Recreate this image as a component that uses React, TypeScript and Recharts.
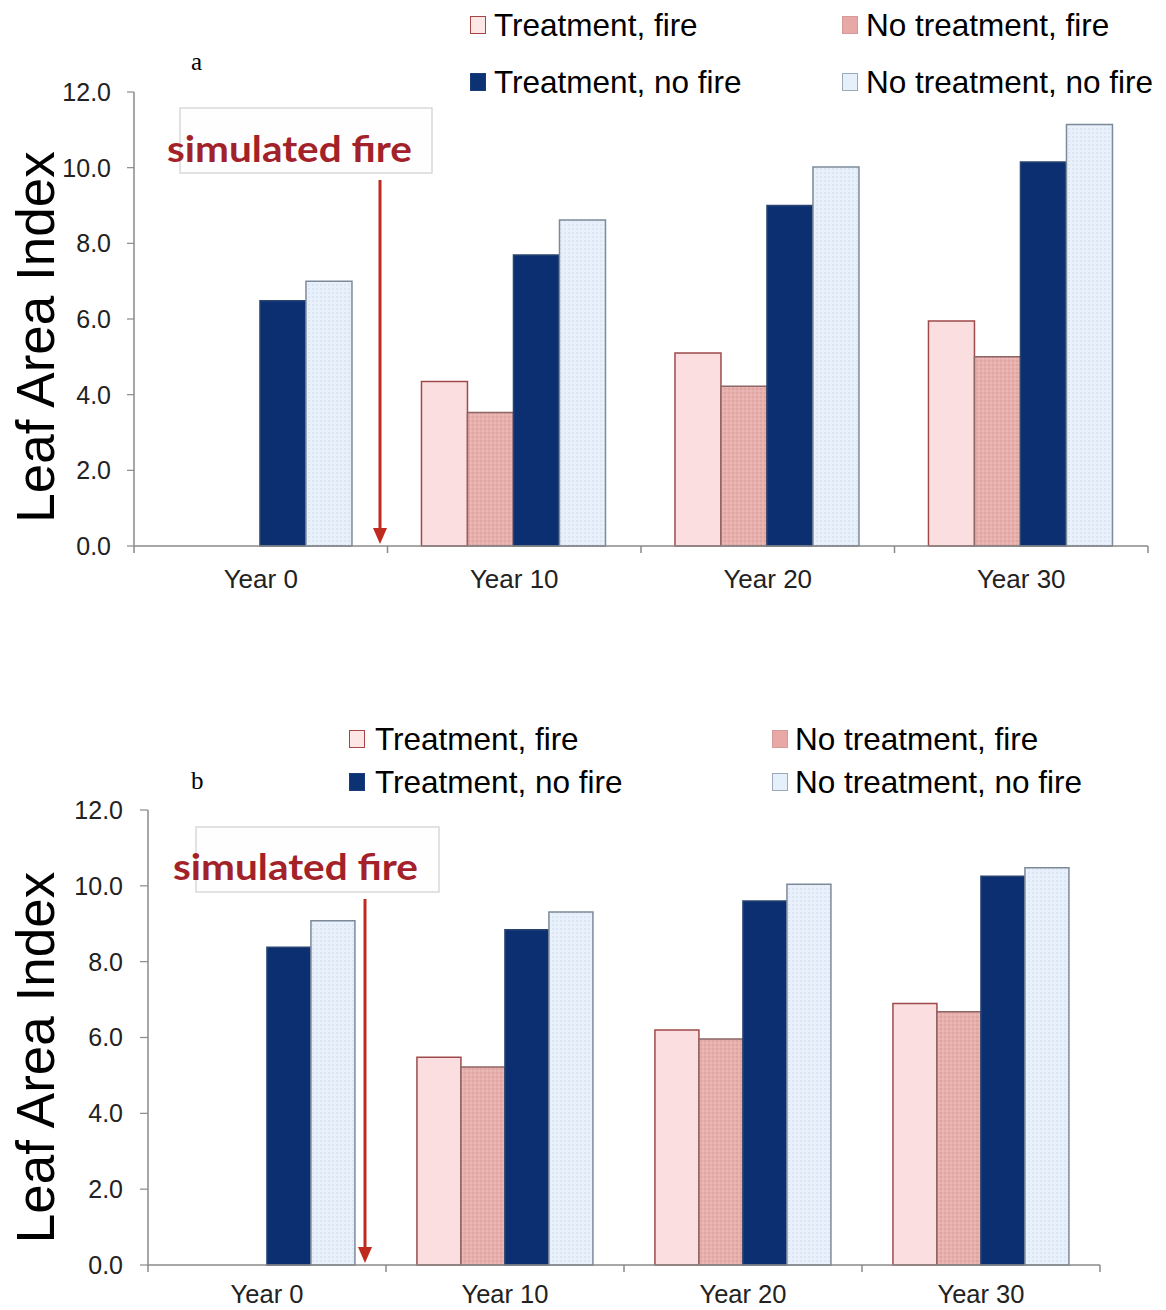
import React from 'react';
import { BarChart, Bar, XAxis, YAxis } from 'recharts';

// ---------- data ----------
const categories = ['Year 0', 'Year 10', 'Year 20', 'Year 30'];
const seriesNames = ['Treatment, fire', 'No treatment, fire', 'Treatment, no fire', 'No treatment, no fire'];
const yTicks = [0, 2, 4, 6, 8, 10, 12];

const aTreatFire = [null, 4.35, 5.1, 5.95];
const aNoTreatFire = [null, 3.53, 4.22, 5.0];
const aTreatNoFire = [6.48, 7.69, 9.0, 10.15];
const aNoTreatNoFire = [7.0, 8.62, 10.02, 11.14];

const bTreatFire = [null, 5.48, 6.2, 6.9];
const bNoTreatFire = [null, 5.22, 5.96, 6.68];
const bTreatNoFire = [8.38, 8.84, 9.6, 10.25];
const bNoTreatNoFire = [9.08, 9.31, 10.04, 10.48];

const annotationText = 'simulated fire';
const yAxisTitle = 'Leaf Area Index';

// ---------- styles ----------
const FONT = '"Liberation Sans", Arial, Helvetica, sans-serif';
const AXIS = '#8a8a8a';

const seriesKeys = ['tf', 'nf', 'tn', 'nn'];
const seriesStyle: Record<string, { fill: string; stroke: string; swFill: string; swStroke: string }> = {
  tf: { fill: '#fbdfe0', stroke: '#9e4a4a', swFill: '#fde6e6', swStroke: '#a84444' },
  nf: { fill: 'dotRose', stroke: '#8c6565', swFill: '#e7a8a6', swStroke: '#d49a98' },
  tn: { fill: '#0b2f70', stroke: '#2a4472', swFill: '#0d3274', swStroke: '#1a3c78' },
  nn: { fill: 'dotBlue', stroke: '#7d8a9a', swFill: '#e6f0fb', swStroke: '#9aaabb' },
};

const buildRows = (tf: (number | null)[], nf: (number | null)[], tn: number[], nn: number[]) =>
  categories.map((c, i) => ({ year: c, tf: tf[i], nf: nf[i], tn: tn[i], nn: nn[i] }));

type PanelCfg = {
  id: string;
  letter: string;
  top: number;
  height: number;
  margin: { top: number; right: number; bottom: number; left: number };
  yAxisWidth: number;
  xAxisHeight: number;
  labelOffset: number;
  xFont: number;
  yTickSize: number;
  yTickMargin: number;
  gap: string;
  titleX: number;
  titleShift: number;
  letterX: number;
  letterY: number;
  box: { x: number; y: number; w: number; h: number };
  text: { x: number; y: number; len: number };
  arrow: { x: number; y1: number; y2: number };
  legend: { rows: number[]; swX: number[]; txX: number[] };
};

const panelA: PanelCfg = {
  id: 'a', letter: 'a', top: 0, height: 620,
  margin: { top: 92, right: 18, bottom: 24, left: 0 },
  yAxisWidth: 134, xAxisHeight: 50, labelOffset: 42, xFont: 26, yTickSize: 7, yTickMargin: 16, gap: '13.4%',
  titleX: 54, titleShift: 18, letterX: 191, letterY: 70,
  box: { x: 180, y: 108, w: 252, h: 65 },
  text: { x: 167, y: 162, len: 245 },
  arrow: { x: 380, y1: 180, y2: 544 },
  legend: { rows: [26, 83], swX: [470, 842], txX: [494, 866] },
};

const panelB: PanelCfg = {
  id: 'b', letter: 'b', top: 720, height: 590,
  margin: { top: 90, right: 66, bottom: 0, left: 0 },
  yAxisWidth: 148, xAxisHeight: 45, labelOffset: 38, xFont: 25.5, yTickSize: 8, yTickMargin: 17, gap: '13%',
  titleX: 54, titleShift: 20, letterX: 191, letterY: 69,
  box: { x: 196, y: 107, w: 243, h: 65 },
  text: { x: 173, y: 160, len: 245 },
  arrow: { x: 365, y1: 179, y2: 543 },
  legend: { rows: [20, 63], swX: [349, 772], txX: [375, 795] },
};

// Category tick: label at the band centre, tick marks at the band boundaries
const BoundaryTick = (props: any) => {
  const { x, y, payload, labelOffset, index, visibleTicksCount, half, fontSize } = props;
  const h = payload && typeof payload.offset === 'number' && payload.offset > 0 ? payload.offset : half;
  const isLast = index === (visibleTicksCount ?? categories.length) - 1;
  return (
    <g>
      <line x1={x - h} x2={x - h} y1={y} y2={y + 7} stroke={AXIS} strokeWidth={1.5} />
      {isLast && <line x1={x + h} x2={x + h} y1={y} y2={y + 7} stroke={AXIS} strokeWidth={1.5} />}
      <text x={x} y={y + labelOffset} textAnchor="middle" fontFamily={FONT} fontSize={fontSize} fill="#222">
        {payload.value}
      </text>
    </g>
  );
};

function Panel({ cfg, rows }: { cfg: PanelCfg; rows: any[] }) {
  const fillFor = (k: string) => {
    const f = seriesStyle[k].fill;
    return f.startsWith('#') ? f : `url(#${cfg.id}-${f})`;
  };
  const plotW = 1166 - cfg.margin.left - cfg.margin.right - cfg.yAxisWidth;
  const half = plotW / categories.length / 2;
  return (
    <div style={{ position: 'absolute', left: 0, top: cfg.top, width: 1166, height: cfg.height }}>
      <BarChart
        width={1166}
        height={cfg.height}
        data={rows}
        margin={cfg.margin}
        barCategoryGap={cfg.gap}
        barGap={0}
      >
        <defs>
          <pattern id={`${cfg.id}-dotRose`} width={4} height={4} patternUnits="userSpaceOnUse">
            <rect width={4} height={4} fill="#e8b0ac" />
            <circle cx={1} cy={1} r={0.7} fill="#d2928f" />
            <circle cx={3} cy={3} r={0.7} fill="#f0c8c4" />
          </pattern>
          <pattern id={`${cfg.id}-dotBlue`} width={4} height={4} patternUnits="userSpaceOnUse">
            <rect width={4} height={4} fill="#e7f0fb" />
            <circle cx={1} cy={1} r={0.7} fill="#cdd9e6" />
          </pattern>
        </defs>
        <XAxis
          dataKey="year"
          interval={0}
          height={cfg.xAxisHeight}
          tickSize={0}
          tickMargin={0}
          tickLine={false}
          axisLine={{ stroke: AXIS, strokeWidth: 1.5 }}
          tick={(p: any) => (
            <BoundaryTick {...p} labelOffset={cfg.labelOffset} half={half} fontSize={cfg.xFont} />
          )}
        />
        <YAxis
          domain={[0, 12]}
          ticks={yTicks}
          interval={0}
          width={cfg.yAxisWidth}
          tickFormatter={(v: number) => v.toFixed(1)}
          tickSize={cfg.yTickSize}
          tickMargin={cfg.yTickMargin}
          axisLine={{ stroke: AXIS, strokeWidth: 1.5 }}
          tickLine={{ stroke: AXIS, strokeWidth: 1.2 }}
          tick={{ fontSize: 25, fill: '#222', fontFamily: FONT }}
          label={(p: any) => {
            const vb = p && p.viewBox ? p.viewBox : { y: cfg.margin.top, height: 455 };
            const cy = vb.y + vb.height / 2 + cfg.titleShift;
            return (
              <text
                x={cfg.titleX}
                y={cy}
                transform={`rotate(-90 ${cfg.titleX} ${cy})`}
                textAnchor="middle"
                fontFamily={FONT}
                fontSize={53}
                fill="#000"
              >
                {yAxisTitle}
              </text>
            );
          }}
        />
        {seriesKeys.map((k, i) => (
          <Bar
            key={k}
            dataKey={k}
            name={seriesNames[i]}
            fill={fillFor(k)}
            stroke={seriesStyle[k].stroke}
            strokeWidth={1.5}
            isAnimationActive={false}
          />
        ))}
      </BarChart>

      {/* legend */}
      {seriesKeys.map((k, i) => {
        const col = i % 2;
        const row = Math.floor(i / 2);
        const cy = cfg.legend.rows[row];
        return (
          <div key={k}>
            <div
              style={{
                position: 'absolute',
                left: cfg.legend.swX[col],
                top: cy - 10,
                width: 14,
                height: 16,
                background: seriesStyle[k].swFill,
                border: `1.5px solid ${seriesStyle[k].swStroke}`,
              }}
            />
            <div
              style={{
                position: 'absolute',
                left: cfg.legend.txX[col],
                top: cy - 19,
                fontFamily: FONT,
                fontSize: 31.5,
                lineHeight: '36px',
                color: '#000',
                whiteSpace: 'nowrap',
              }}
            >
              {seriesNames[i]}
            </div>
          </div>
        );
      })}

      {/* annotations */}
      <svg
        width={1166}
        height={cfg.height}
        style={{ position: 'absolute', left: 0, top: 0, pointerEvents: 'none' }}
      >
        <text x={cfg.letterX} y={cfg.letterY} fontFamily='"Liberation Serif", "Times New Roman", serif' fontSize={25} fill="#000">
          {cfg.letter}
        </text>
        <rect x={cfg.box.x} y={cfg.box.y} width={cfg.box.w} height={cfg.box.h} fill="#fefeff" stroke="#cfcfcf" strokeWidth={1.2} />
        <text
          x={cfg.text.x}
          y={cfg.text.y}
          textLength={cfg.text.len}
          lengthAdjust="spacingAndGlyphs"
          fontFamily='Lato, "Open Sans", sans-serif'
          fontWeight={700}
          fontSize={36}
          fill="#a3222a"
        >
          {annotationText}
        </text>
        <line x1={cfg.arrow.x} x2={cfg.arrow.x} y1={cfg.arrow.y1} y2={cfg.arrow.y2 - 14} stroke="#bf2a1e" strokeWidth={3} />
        <polygon
          points={`${cfg.arrow.x - 7},${cfg.arrow.y2 - 16} ${cfg.arrow.x + 7},${cfg.arrow.y2 - 16} ${cfg.arrow.x},${cfg.arrow.y2}`}
          fill="#bf2a1e"
        />
      </svg>
    </div>
  );
}

export default function App() {
  const rowsA = buildRows(aTreatFire, aNoTreatFire, aTreatNoFire, aNoTreatNoFire);
  const rowsB = buildRows(bTreatFire, bNoTreatFire, bTreatNoFire, bNoTreatNoFire);
  return (
    <div style={{ position: 'absolute', left: 0, top: 0, width: 1166, height: 1310, background: '#fff' }}>
      <Panel cfg={panelA} rows={rowsA} />
      <Panel cfg={panelB} rows={rowsB} />
    </div>
  );
}
